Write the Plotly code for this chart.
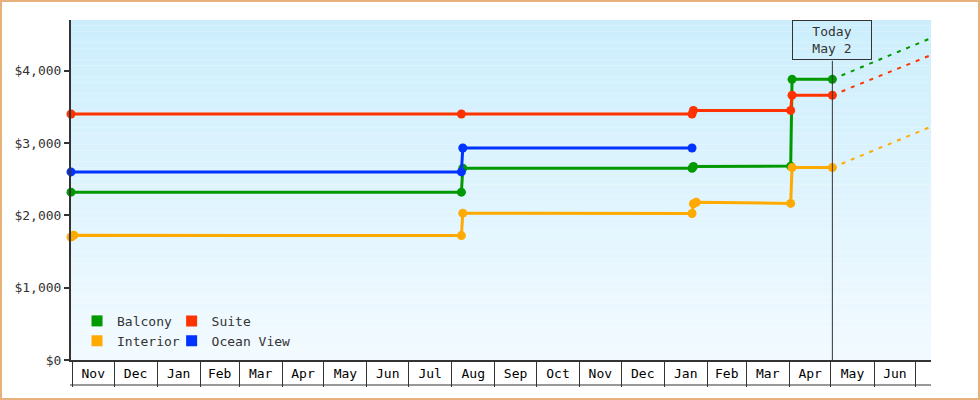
import plotly.graph_objects as go

# cabin prices (date of each change, USD)
balcony_dates = ["2016-10-31", "2017-08-08", "2017-08-09", "2018-01-21", "2018-01-22",
                 "2018-04-02", "2018-04-03", "2018-05-02"]
balcony_prices = [2320, 2320, 2650, 2650, 2675, 2680, 3880, 3880]

suite_dates = ["2016-10-31", "2017-08-08", "2018-01-21", "2018-01-22",
               "2018-04-02", "2018-04-03", "2018-05-02"]
suite_prices = [3400, 3400, 3400, 3450, 3450, 3660, 3660]

interior_dates = ["2016-10-31", "2016-11-02", "2017-08-08", "2017-08-09", "2018-01-21",
                  "2018-01-22", "2018-01-24", "2018-04-02", "2018-04-03", "2018-05-02"]
interior_prices = [1700, 1725, 1720, 2030, 2025, 2160, 2180, 2165, 2660, 2660]

ocean_dates = ["2016-10-31", "2017-08-08", "2017-08-09", "2018-01-21"]
ocean_prices = [2600, 2600, 2930, 2930]

# forecast from today to the end of the window
today = "2018-05-02"
window_start = "2016-10-31"
window_end = "2018-07-12"
balcony_forecast = [3880, 4450]
suite_forecast = [3660, 4215]
interior_forecast = [2660, 3225]

FONT = "DejaVu Sans Mono"
INK = "#333333"

series = [
    # name, dates, prices, forecast, colour, legend
    ("Balcony", balcony_dates, balcony_prices, balcony_forecast, "#009900", "legend"),
    ("Interior", interior_dates, interior_prices, interior_forecast, "#ffaa00", "legend"),
    ("Suite", suite_dates, suite_prices, suite_forecast, "#ff3300", "legend2"),
    ("Ocean View", ocean_dates, ocean_prices, None, "#0033ff", "legend2"),
]

fig = go.Figure()

for name, dates, prices, forecast, colour, leg in series:
    fig.add_trace(go.Scatter(
        x=dates, y=prices, mode="lines+markers", name=name,
        line=dict(color=colour, width=3),
        marker=dict(color=colour, size=9, symbol="circle"),
        cliponaxis=False, showlegend=False,
    ))
    if forecast is not None:
        fig.add_trace(go.Scatter(
            x=[today, window_end], y=forecast, mode="lines",
            line=dict(color=colour, width=2, dash="4px,6px"),
            showlegend=False, hoverinfo="skip",
        ))

# square swatches for the legend
for name, dates, prices, forecast, colour, leg in series:
    fig.add_trace(go.Scatter(
        x=[None], y=[None], mode="markers", name=name, legend=leg,
        marker=dict(color=colour, size=11, symbol="square"),
    ))

# soft blue gradient behind the plot
shapes = []
top_rgb = (204, 238, 252)
bottom_rgb = (242, 250, 255)
n = 60
for i in range(n):
    t = i / (n - 1)
    c = [round(b + (tp - b) * t) for b, tp in zip(bottom_rgb, top_rgb)]
    shapes.append(dict(type="rect", xref="paper", yref="paper",
                       x0=0, x1=1, y0=i / n, y1=(i + 1) / n,
                       fillcolor="rgb(%d,%d,%d)" % tuple(c), line_width=0, layer="below"))

# bottom edge of the month cells
shapes.append(dict(type="line", xref="paper", yref="paper", x0=-1 / 860, x1=1,
                   y0=-25 / 340, y1=-25 / 340, line=dict(color=INK, width=1)))
# today marker line
shapes.append(dict(type="line", xref="x", yref="paper", x0=today, x1=today,
                   y0=0, y1=0.88, line=dict(color=INK, width=1)))
# outer frame
shapes.append(dict(type="rect", xref="paper", yref="paper",
                   x0=-70 / 860, x1=908 / 860, y0=-39 / 340, y1=359 / 340,
                   line=dict(color="#e8b07a", width=2), fillcolor="rgba(0,0,0,0)"))

fig.update_layout(
    width=980, height=400,
    margin=dict(l=71, r=49, t=20, b=40),
    paper_bgcolor="white", plot_bgcolor="white",
    font=dict(family=FONT, size=13, color=INK),
    shapes=shapes,
    annotations=[dict(
        x=today, xref="x", y=1, yref="paper", yanchor="top",
        text="Today<br>May 2", showarrow=False,
        font=dict(family=FONT, size=13, color=INK),
        bordercolor=INK, borderwidth=1, borderpad=1, width=76, height=36,
    )],
    legend=dict(x=0.007, y=0.159, xanchor="left", yanchor="top",
                bgcolor="rgba(0,0,0,0)", font=dict(family=FONT, size=13, color=INK),
                itemwidth=30, tracegroupgap=0),
    legend2=dict(x=0.117, y=0.159, xanchor="left", yanchor="top",
                 bgcolor="rgba(0,0,0,0)", font=dict(family=FONT, size=13, color=INK),
                 itemwidth=30, tracegroupgap=0),
    xaxis=dict(
        type="date", range=[window_start, window_end],
        tick0="2016-11-01", dtick="M1", tickformat="%b", ticklabelmode="period",
        ticks="outside", ticklen=25, tickwidth=1, tickcolor=INK,
        ticklabelstandoff=-25,
        showline=True, linecolor=INK, linewidth=2,
        showgrid=False, zeroline=False,
        tickfont=dict(family=FONT, size=13, color="black"),
    ),
    yaxis=dict(
        range=[0, 4700], dtick=1000, tickprefix="$", tickformat=",d",
        ticks="outside", ticklen=5, tickwidth=2, tickcolor=INK,
        showline=True, linecolor=INK, linewidth=2,
        showgrid=False, zeroline=False,
        tickfont=dict(family=FONT, size=13, color=INK),
    ),
)

# the page has a default body margin; drop it so the 980x400 figure fills the window
fig.write_html("out.html", config={"displayModeBar": False},
               post_script="document.body.style.margin='0';")
